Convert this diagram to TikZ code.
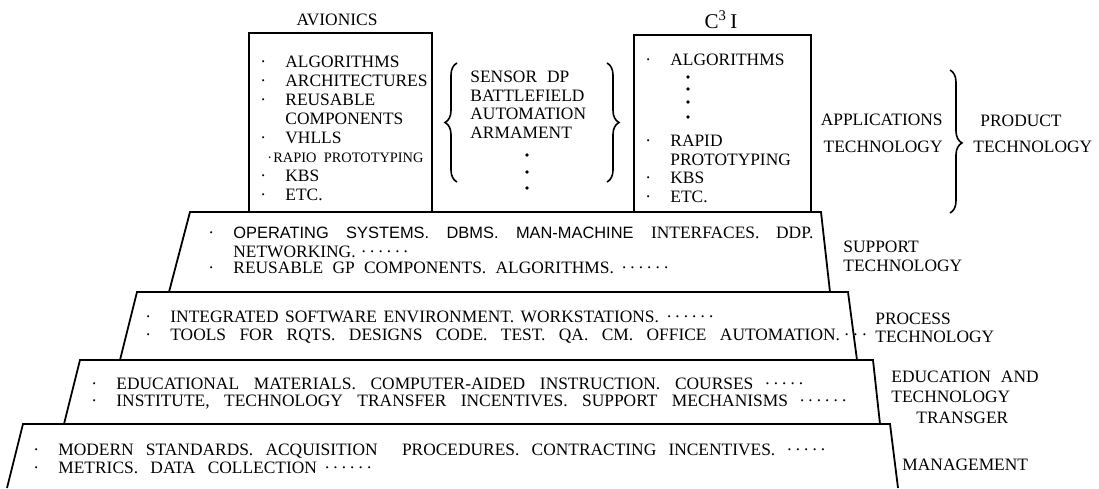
\documentclass[tikz,border=0pt]{standalone}
\usepackage{fontspec}
\setmainfont{Liberation Serif}
\setsansfont{Liberation Sans}
\usetikzlibrary{decorations.pathreplacing}
\newlength{\px}\setlength{\px}{0.5pt}
\newcommand{\bl}{\llap{·\hspace{9.6pt}}}
\newcommand{\bdot}{\makebox[4.2pt]{·}}
\newcommand{\dotfive}{\bdot\bdot\bdot\bdot\bdot}
\newcommand{\dotsix}{\bdot\bdot\bdot\bdot\bdot\bdot}
\newcommand{\spread}[2]{\makebox[#1\px][s]{#2}}

\begin{document}
\begin{tikzpicture}[x=0.5pt,y=-0.5pt,
  txt/.style={font=\fontsize{8.7}{9.5}\selectfont,inner sep=0pt,
    anchor=base west,align=left},
  lay/.style={line width=0.9pt,line join=miter},
  brc/.style={decorate,decoration={brace,amplitude=6pt},line width=0.8pt}
]
\useasboundingbox (0,0) rectangle (1099,488);

% application boxes on top
\draw[lay] (249,212) -- (249,33) -- (432,33) -- (432,212);
\draw[lay] (634,212) -- (634,35) -- (811,35) -- (811,212);
% the four layers
\draw[lay] (190,212) -- (821,212) -- (830,292) -- (169,292) -- cycle;
\draw[lay] (137,292) -- (848,292) -- (857,360) -- (120,360) -- cycle;
\draw[lay] (80,360) -- (873,360) -- (880,424) -- (64,424) -- cycle;
\draw[lay] (7,488) -- (23,424) -- (890,424) -- (898,488);

% avionics (multi-line nodes sit on their last baseline)
\node[txt,anchor=base] (avi) at (337,25) {AVIONICS};
\node[txt] (avlist) at (285,200) {\bl ALGORITHMS\\ \bl ARCHITECTURES\\
  \bl REUSABLE\\ COMPONENTS\\ \bl VHLLS\\
  {\fontsize{7.2}{9.5}\selectfont\hspace*{-9pt}·\kern0.6pt RAPIO\ \ PROTOTYPING}\\
  \bl KBS\\ \bl ETC.};

% application areas
\draw[brc] (457,182) -- (457,63);
\draw[brc] (607,63) -- (607,182);
\node[txt,font=\fontsize{8.7}{9.2}\selectfont] (areas) at (470,138)
  {SENSOR\hspace{5pt}DP\\BATTLEFIELD\\AUTOMATION\\ARMAMENT};
\foreach \y in {155,172,188} \fill (527,\y) circle (0.9pt);

% c3i
\node[txt,anchor=base,font=\fontsize{10.5}{12}\selectfont] (cci) at (721,28) {C\textsuperscript{3}\,I};
\node[txt] (ccalg) at (670,65) {\bl ALGORITHMS};
\foreach \y in {77,89,102,117} \fill (688,\y) circle (0.9pt);
\node[txt,font=\fontsize{8.7}{9.2}\selectfont] (ccrest) at (670,202)
  {\bl RAPID\\PROTOTYPING\\ \bl KBS\\ \bl ETC.};

% applications / product technology
\node[txt,anchor=base east] (appa) at (943,125) {APPLICATIONS};
\node[txt,anchor=base east] (appb) at (943,152) {TECHNOLOGY};
\draw[brc,decoration={aspect=0.51}] (950,70) -- (950,213);
\node[txt] (proda) at (980,126) {PRODUCT};
\node[txt] (prodb) at (973,152) {TECHNOLOGY};

% support technology
\node[txt] (sup1) at (233,238) {\bl\spread{580}{\sffamily\fontsize{8.2}{9}\selectfont
  OPERATING SYSTEMS. DBMS. MAN-MACHINE {\rmfamily\fontsize{8.7}{9}\selectfont INTERFACES. DDP.}}};
\node[txt] (sup2) at (233,257) {NETWORKING.\kern2pt\dotsix};
\node[txt] (sup3) at (233,273) {\bl\spread{437}{REUSABLE GP COMPONENTS. ALGORITHMS.\kern3pt\dotsix}};
\node[txt] (suplab) at (843,271) {SUPPORT\\TECHNOLOGY};

% process technology
\node[txt] (pro1) at (170,322) {\bl\spread{545}{INTEGRATED SOFTWARE ENVIRONMENT. WORKSTATIONS.\kern3pt\dotsix}};
\node[txt] (pro2) at (170,340) {\bl\spread{697}{TOOLS FOR RQTS. DESIGNS CODE. TEST. QA. CM. OFFICE
  AUTOMATION.\kern2pt·\kern1.5pt·\kern1.5pt·}};
\node[txt,font=\fontsize{8.7}{9}\selectfont] (prolab) at (875,342) {PROCESS\\TECHNOLOGY};

% education and technology transfer
\node[txt] (edu1) at (116,389) {\bl\spread{689}{EDUCATIONAL MATERIALS. COMPUTER-AIDED
  INSTRUCTION. COURSES\kern5pt\dotfive}};
\node[txt] (edu2) at (116,406) {\bl\spread{732}{INSTITUTE, TECHNOLOGY TRANSFER INCENTIVES.
  SUPPORT MECHANISMS\kern5pt\dotsix}};
\node[txt,font=\fontsize{8.7}{10.25}\selectfont] (edulab) at (891,423)
  {EDUCATION\hspace{5pt}AND\\TECHNOLOGY\\\hspace*{12.5pt}TRANSGER};

% management
\node[txt] (mgt1) at (58,455) {\bl\spread{769}{MODERN STANDARDS. ACQUISITION\ \ PROCEDURES.
  CONTRACTING INCENTIVES.\kern5pt\dotfive}};
\node[txt] (mgt2) at (58,473) {\bl\spread{315}{METRICS. DATA COLLECTION\kern3pt\dotsix}};
\node[txt] (mgtlab) at (902,470) {MANAGEMENT};
\end{tikzpicture}
\end{document}
